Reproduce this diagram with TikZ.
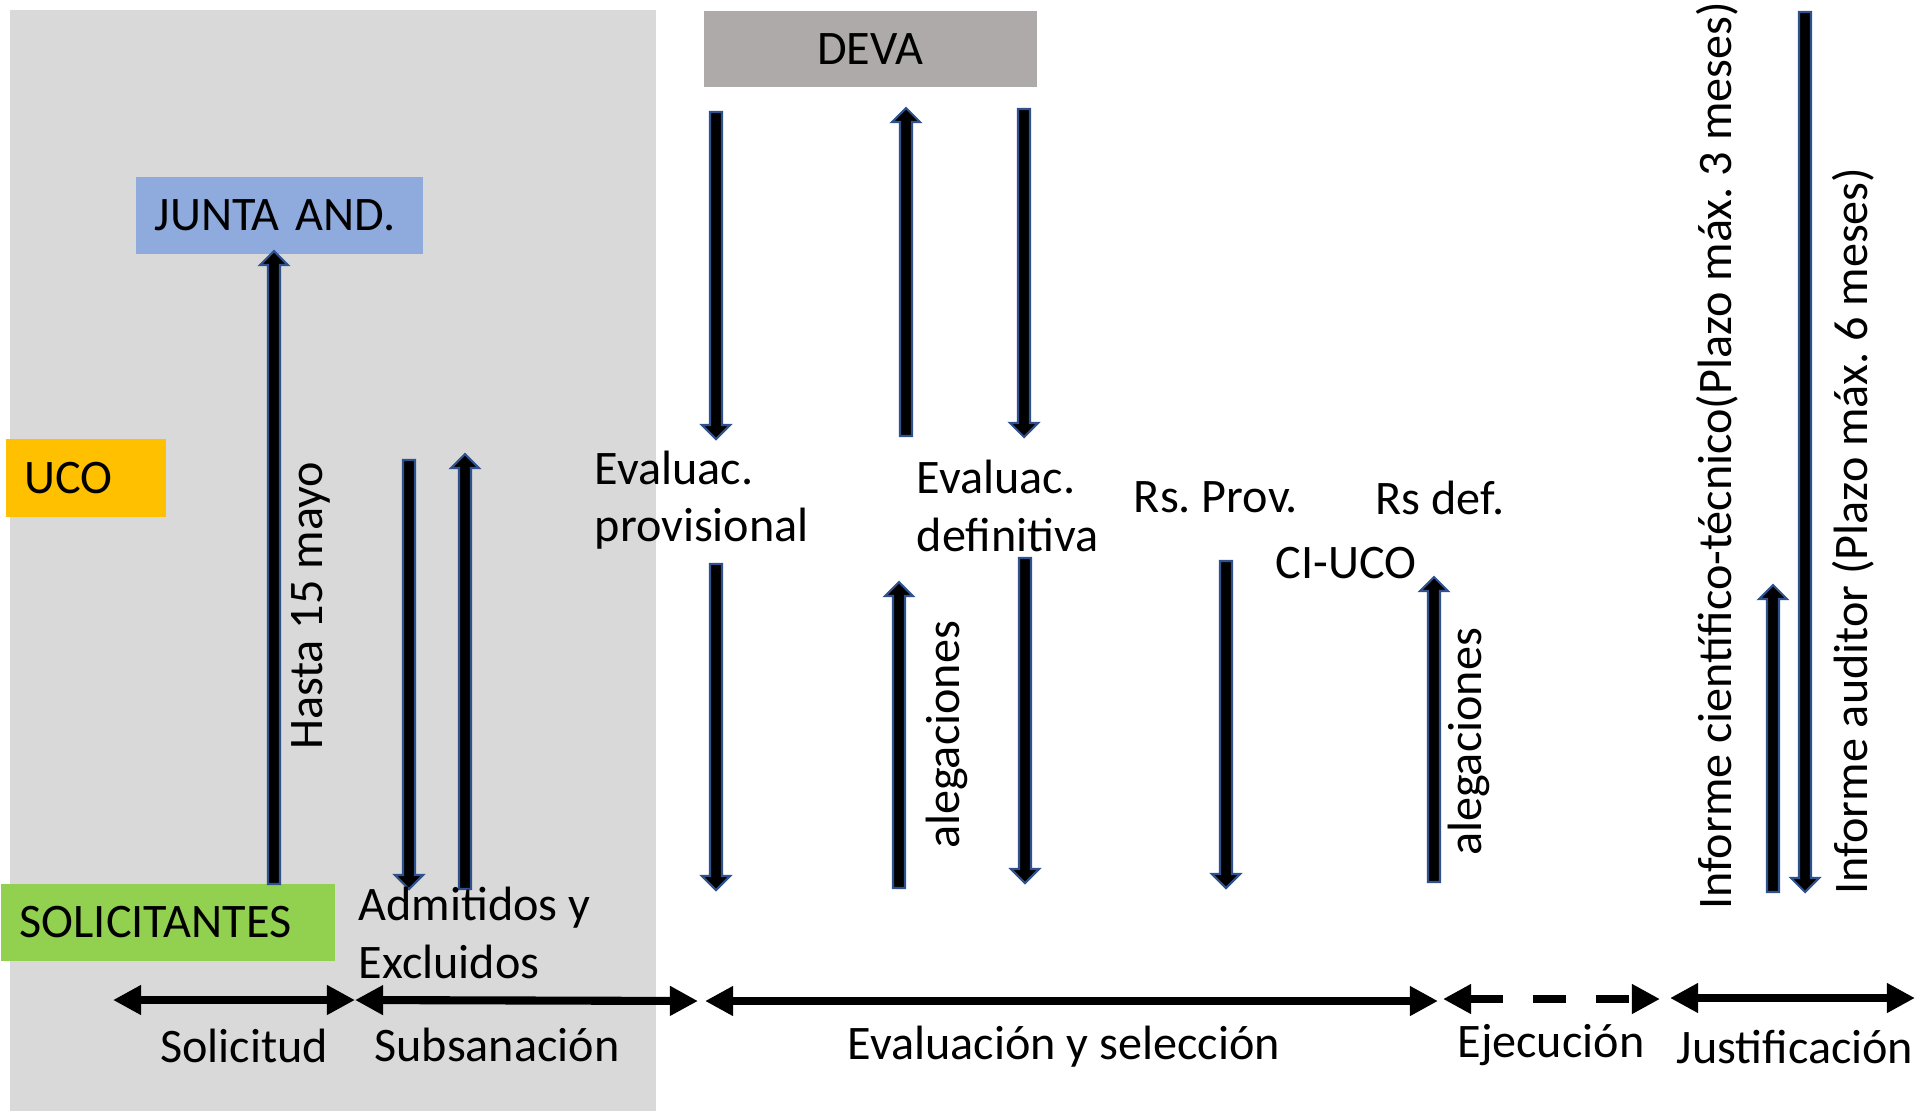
\documentclass[tikz,border=0pt]{standalone}
\usepackage{fontspec}
\setmainfont{Carlito}
\usepackage{xcolor}
\usepackage{tikz}
\usetikzlibrary{arrows.meta}
\usetikzlibrary{calc}

\definecolor{fondo}{HTML}{D9D9D9}
\definecolor{devagris}{HTML}{AEAAAA}
\definecolor{juntaazul}{HTML}{8FAADC}
\definecolor{ucoamarillo}{HTML}{FFC000}
\definecolor{solverde}{HTML}{92D050}
\definecolor{borde}{HTML}{2F528F}

\frenchspacing

\tikzset{
  texto/.style={font=\fontsize{13.7}{16.4}\selectfont, inner sep=0pt},
  caja/.style={texto, anchor=north west, inner xsep=0.19cm, minimum height=0.77cm, align=left},
  bloque/.style={fill=black, draw=borde, line width=0.6pt},
  fase/.style={line width=2.3pt, {Triangle[length=8pt,width=8pt]}-{Triangle[length=8pt,width=8pt]}}
}

\begin{document}
\begin{tikzpicture}[x=0.01cm, y=-0.01cm]
	\useasboundingbox (0,0) rectangle (1920,1111);
	%% zona gris (solicitud y subsanacion)
	\fill[fondo] (10,10) rectangle (656,1111);

	%% cajas de actores
	\node[caja, fill=devagris, align=center, text width=3.33cm, inner xsep=0pt, minimum height=0.76cm] (deva) at (703,10) {DEVA};
	\node[caja, fill=juntaazul, text width=2.49cm] (junta) at (135,176) {JUNTA AND.};
	\node[caja, fill=ucoamarillo, text width=1.22cm, minimum height=0.78cm] (uco) at (5,438) {UCO};
	\node[caja, fill=solverde, text width=2.96cm] (solic) at (0,883) {SOLICITANTES};

	%% flechas verticales: x / cola / punta
	\foreach \x/\a/\b in {274/884/251, 409/460/889, 465/889/454,
			716/112/439, 906/436/108, 1024/109/437,
			716/564/890, 899/888/582, 1025/558/883,
			1226/561/888, 1434/882/577, 1773/892/585, 1805/12/892}
	{
		\pgfmathsetmacro{\c}{\b+14*(\a-\b)/abs(\a-\b)}
		\draw[bloque] (\x-6,\a) -- (\x-6,\c) -- (\x-14,\c) -- (\x,\b) -- (\x+14,\c) -- (\x+6,\c) -- (\x+6,\a) -- cycle;
	}

	\begin{scope}[every node/.style={texto}]
		\node[rotate=90] (hasta) at (311,606) {Hasta 15 mayo};
		\node[anchor=west, align=left] (admit) at (358,933) {Admitidos y\\Excluidos};
		\node[anchor=west, align=left] (evprov) at (594,500) {Evaluac.\\provisional};
		\node[anchor=west, align=left] (evdef) at (916,506) {Evaluac.\\definitiva};
		\node (rsprov) at (1216,497) {Rs. Prov.};
		\node (rsdef) at (1440,498) {Rs def.};
		\node (ciuco) at (1346,563) {CI-UCO};
		\node[rotate=90] (aleg1) at (947,735) {alegaciones};
		\node[rotate=90] (aleg2) at (1469,742) {alegaciones};
		\node[rotate=90] (infct) at (1717,456) {Informe científico-técnico(Plazo máx. 3 meses)};
		\node[rotate=90] (infaud) at (1853,531) {Informe auditor (Plazo máx. 6 meses)};
	\end{scope}

	%% linea de tiempo
	\coordinate (t0) at (113,1000);
	\coordinate (t1) at (355,1000);
	\coordinate (t2) at (698,1001);
	\coordinate (t3) at (705,1001);
	\coordinate (t4) at (1438,1001);
	\coordinate (t5) at (1443,999);
	\coordinate (t6) at (1660,999);
	\coordinate (t7) at (1670,998);
	\coordinate (t8) at (1915,998);

	\draw[fase] (t0) -- (t1);
	\draw[fase] (t1) -- (t2);
	\draw[fase] (t3) -- (t4);
	\draw[fase, dash pattern=on 9.5pt off 8.5pt] (t5) -- (t6);
	\draw[fase] (t7) -- (t8);

	\begin{scope}[every node/.style={texto}]
		\node (solicitud) at (244,1046) {Solicitud};
		\node (subsan) at (497,1045) {Subsanación};
		\node (evalsel) at (1064,1047) {Evaluación y selección};
		\node (ejec) at (1551,1045) {Ejecución};
		\node (justif) at (1795,1047) {Justificación};
	\end{scope}

\end{tikzpicture}
\end{document}
